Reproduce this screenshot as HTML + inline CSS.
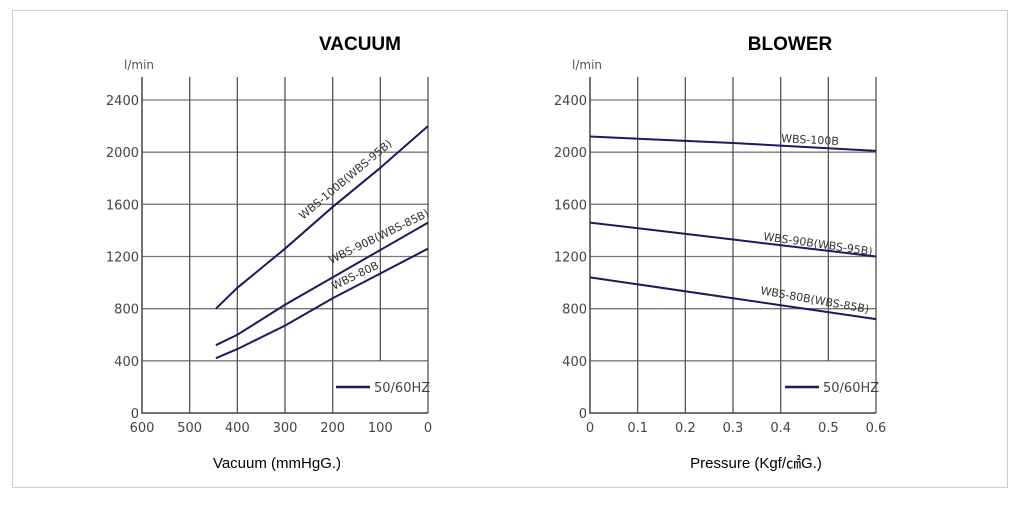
<!DOCTYPE html>
<html><head><meta charset="utf-8"><style>
body{margin:0;background:#fff;width:1018px;height:500px;overflow:hidden}
svg text{font-family:"DejaVu Sans","Liberation Sans",sans-serif}
</style></head><body>
<svg id="svg" width="1018" height="500" xmlns="http://www.w3.org/2000/svg">
<rect x="12.5" y="10.5" width="995" height="477" fill="#fff" stroke="#ccc"/>
</svg>
<script>
const yTicks=[0,400,800,1200,1600,2000,2400];
const vacTicks=[600,500,400,300,200,100,0];
const vacTickLabels=["600","500","400","300","200","100","0"];
const presTicks=[0,0.1,0.2,0.3,0.4,0.5,0.6];
const presTickLabels=["0","0.1","0.2","0.3","0.4","0.5","0.6"];
const vacX=[445,400,300,200,100,0];
const vac100=[800,960,1260,1580,1880,2200];
const vac90=[520,600,830,1040,1250,1460];
const vac80=[420,490,670,880,1070,1260];
const presX=[0,0.3,0.6];
const pres100=[2120,2070,2010];
const pres90=[1460,1330,1200];
const pres80=[1040,880,720];

const svg=document.getElementById('svg');
const NS='http://www.w3.org/2000/svg';
function el(tag,attrs,parent){const e=document.createElementNS(NS,tag);for(const k in attrs)e.setAttribute(k,attrs[k]);(parent||svg).appendChild(e);return e;}
const yS=v=>413-v*(313/2400);

function chart(o){
  const g=el('g',{});
  
  
  const x0=o.xS(o.ticks[0]), x1=o.xS(o.ticks[o.ticks.length-1]);
  yTicks.forEach(v=>{
    if(v>0){const l=el('line',{x1:x0,x2:x1,y1:yS(v),y2:yS(v),stroke:'#777','stroke-width':1.3},g);
      
      }
    const t=el('text',{x:x0-3,y:yS(v)+5,'text-anchor':'end','font-size':13,fill:'#444'},g);
    t.textContent=v;
    
    
  });
  o.ticks.forEach((v,i)=>{
    if(i>0){const yb=(i===o.ticks.length-2)?yS(400):413;
      const l=el('line',{x1:o.xS(v),x2:o.xS(v),y1:77,y2:yb,stroke:'#555','stroke-width':1.3},g);
      
      }
    const t=el('text',{x:o.xS(v),y:432,'text-anchor':'middle','font-size':13,fill:'#444'},g);
    t.textContent=o.labels[i];
    
    
  });
  const ax=el('path',{d:`M${x0} 77 V413 H${x1}`,fill:'none',stroke:'#444','stroke-width':1.5},g);
  
  
  o.series.forEach(s=>{
    const p=el('polyline',{points:s.xs.map((x,i)=>o.xS(x)+','+yS(s.ys[i])).join(' '),fill:'none',stroke:'#1a1a5e','stroke-width':2},g);
    
    
    const t=el('text',{x:s.lx,y:s.ly,'font-size':11,fill:'#333',transform:`rotate(${s.rot} ${s.lx} ${s.ly})`},g);
    t.textContent=s.label;
    
    
  });
  const ll=el('line',{x1:o.legX,x2:o.legX+34,y1:387,y2:387,stroke:'#1a1a5e','stroke-width':2.5},g);
  
  
  const lt=el('text',{x:o.legX+38,y:392,'font-size':13,fill:'#444'},g);
  lt.textContent='50/60HZ';
  
  
  const ul=el('text',{x:o.ulX,y:69,'font-size':12,fill:'#555'},g);
  ul.textContent='l/min';
  
  
  const ti=el('text',{x:o.titleX,y:50,'text-anchor':'middle',style:'font-family:"Liberation Sans",sans-serif;font-size:19px;font-weight:bold',fill:'#000'},g);
  ti.textContent=o.title;
  
  
  const xt=el('text',{x:o.xtX,y:468,'text-anchor':'middle',style:'font-family:"Liberation Sans","Noto Sans CJK KR",sans-serif;font-size:15px',fill:'#000'},g);
  xt.textContent=o.xTitle;
  
  
}
chart({name:'vacuum-chart',title:'VACUUM',titleX:360,xTitle:'Vacuum (mmHgG.)',xtX:277,ulX:124,legX:336,
  xS:v=>428-v*(286/600),ticks:vacTicks,labels:vacTickLabels,
  series:[
   {name:'line-wbs-100b',xs:vacX,ys:vac100,label:'WBS-100B(WBS-95B)',lx:303,ly:220,rot:-40},
   {name:'line-wbs-90b',xs:vacX,ys:vac90,label:'WBS-90B(WBS-85B)',lx:331,ly:264,rot:-26},
   {name:'line-wbs-80b',xs:vacX,ys:vac80,label:'WBS-80B',lx:334,ly:290,rot:-26}]});
chart({name:'blower-chart',title:'BLOWER',titleX:790,xTitle:'Pressure (Kgf/㎠G.)',xtX:756,ulX:572,legX:785,
  xS:v=>590+v*(286/0.6),ticks:presTicks,labels:presTickLabels,
  series:[
   {name:'line-wbs-100b',xs:presX,ys:pres100,label:'WBS-100B',lx:781,ly:142,rot:3},
   {name:'line-wbs-90b',xs:presX,ys:pres90,label:'WBS-90B(WBS-95B)',lx:763,ly:240,rot:8},
   {name:'line-wbs-80b',xs:presX,ys:pres80,label:'WBS-80B(WBS-85B)',lx:760,ly:294,rot:10}]});
</script>
</body></html>
